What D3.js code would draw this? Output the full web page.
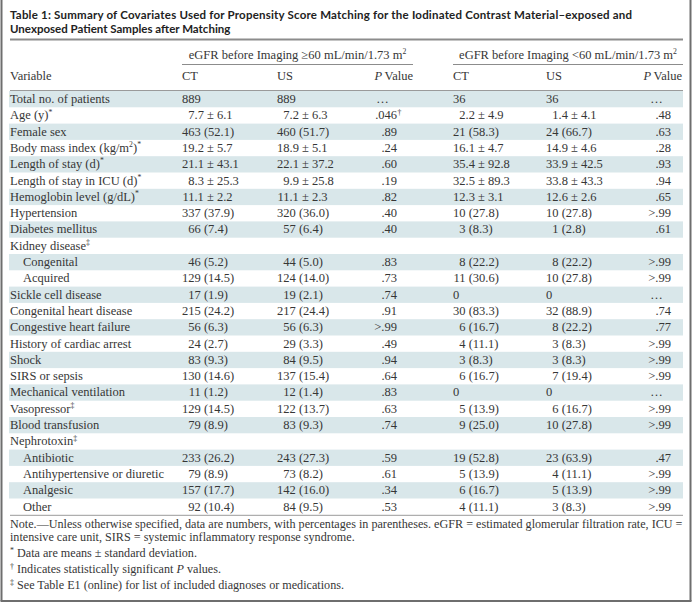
<!DOCTYPE html>
<html><head><meta charset="utf-8">
<script src="https://cdn.jsdelivr.net/npm/d3@7"></script>
<style>html,body{margin:0;padding:0;background:#fff;} svg{display:block}</style>
</head><body>
<script>
// ---------- data ----------
const titleLines = [
  "Table 1: Summary of Covariates Used for Propensity Score Matching for the Iodinated Contrast Material\u2013exposed and",
  "Unexposed Patient Samples after Matching"
];
const groupLabels = ["eGFR before Imaging \u226560 mL/min/1.73 m^2", "eGFR before Imaging <60 mL/min/1.73 m^2"];
const columnLabels = ["Variable", "CT", "US", "P Value", "CT", "US", "P Value"];
const variables = [
  "Total no. of patients", "Age (y)^*", "Female sex", "Body mass index (kg/m^2)^*",
  "Length of stay (d)^*", "Length of stay in ICU (d)^*", "Hemoglobin level (g/dL)^*",
  "Hypertension", "Diabetes mellitus", "Kidney disease^\u2021", "Congenital", "Acquired",
  "Sickle cell disease", "Congenital heart disease", "Congestive heart failure",
  "History of cardiac arrest", "Shock", "SIRS or sepsis", "Mechanical ventilation",
  "Vasopressor^\u2021", "Blood transfusion", "Nephrotoxin^\u2021", "Antibiotic",
  "Antihypertensive or diuretic", "Analgesic", "Other"
];
const indentLevel = [0,0,0,0,0,0,0,0,0,0,1,1,0,0,0,0,0,0,0,0,0,0,1,1,1,1];
const ct1 = ["889","7.7 \u00b1 6.1","463 (52.1)","19.2 \u00b1 5.7","21.1 \u00b1 43.1","8.3 \u00b1 25.3","11.1 \u00b1 2.2",
  "337 (37.9)","66 (7.4)","","46 (5.2)","129 (14.5)","17 (1.9)","215 (24.2)","56 (6.3)","24 (2.7)",
  "83 (9.3)","130 (14.6)","11 (1.2)","129 (14.5)","79 (8.9)","","233 (26.2)","79 (8.9)","157 (17.7)","92 (10.4)"];
const us1 = ["889","7.2 \u00b1 6.3","460 (51.7)","18.9 \u00b1 5.1","22.1 \u00b1 37.2","9.9 \u00b1 25.8","11.1 \u00b1 2.3",
  "320 (36.0)","57 (6.4)","","44 (5.0)","124 (14.0)","19 (2.1)","217 (24.4)","56 (6.3)","29 (3.3)",
  "84 (9.5)","137 (15.4)","12 (1.4)","122 (13.7)","83 (9.3)","","243 (27.3)","73 (8.2)","142 (16.0)","84 (9.5)"];
const p1 = ["\u2026",".046^\u2020",".89",".24",".60",".19",".82",".40",".40","",".83",".73",".74",".91",">.99",".49",
  ".94",".64",".83",".63",".74","",".59",".61",".34",".53"];
const ct2 = ["36","2.2 \u00b1 4.9","21 (58.3)","16.1 \u00b1 4.7","35.4 \u00b1 92.8","32.5 \u00b1 89.3","12.3 \u00b1 3.1",
  "10 (27.8)","3 (8.3)","","8 (22.2)","11 (30.6)","0","30 (83.3)","6 (16.7)","4 (11.1)",
  "3 (8.3)","6 (16.7)","0","5 (13.9)","9 (25.0)","","19 (52.8)","5 (13.9)","6 (16.7)","4 (11.1)"];
const us2 = ["36","1.4 \u00b1 4.1","24 (66.7)","14.9 \u00b1 4.6","33.9 \u00b1 42.5","33.8 \u00b1 43.3","12.6 \u00b1 2.6",
  "10 (27.8)","1 (2.8)","","8 (22.2)","10 (27.8)","0","32 (88.9)","8 (22.2)","3 (8.3)",
  "3 (8.3)","7 (19.4)","0","6 (16.7)","10 (27.8)","","23 (63.9)","4 (11.1)","5 (13.9)","3 (8.3)"];
const p2 = ["\u2026",".48",".63",".28",".93",".94",".65",">.99",".61","",">.99",">.99","\u2026",".74",".77",">.99",
  ">.99",">.99","\u2026",">.99",">.99","",".47",">.99",">.99",">.99"];
const noteLines = [
  "Note.\u2014Unless otherwise specified, data are numbers, with percentages in parentheses. eGFR = estimated glomerular filtration rate, ICU =",
  "intensive care unit, SIRS = systemic inflammatory response syndrome."
];
const footMarks = ["*", "\u2020", "\u2021"];
const footTexts = ["Data are means \u00b1 standard deviation.", "Indicates statistically significant _P_ values.",
  "See Table E1 (online) for list of included diagnoses or medications."];

// ---------- layout ----------
const W = 692, H = 605;
const L = 10, R = 683;
const serif = "'Liberation Serif', 'Times New Roman', serif";
const fs = 12.5;
const textColor = "#363636";
const shade = "#d9e7ea";
const rowTop = 91, rowH = 16.3;

const svg = d3.select("body").append("svg").attr("width", W).attr("height", H);

// measuring helper
const meas = svg.append("text").attr("font-family", serif).attr("font-size", fs).attr("visibility", "hidden");
function tw(s, size, family, weight) {
  meas.attr("font-size", size || fs).attr("font-family", family || serif).attr("font-weight", weight || "normal").text(s);
  return meas.node().getComputedTextLength();
}

// rich text: ^x -> superscript char, _..._ -> italic
function rich(sel, str, size) {
  const parts = [];
  let i = 0, buf = "", ital = false;
  while (i < str.length) {
    const c = str[i];
    if (c === "^") { if (buf) parts.push({t: buf, sup: false, it: ital}); buf = ""; parts.push({t: str[i+1], sup: true, it: ital}); i += 2; continue; }
    if (c === "_") { if (buf) parts.push({t: buf, sup: false, it: ital}); buf = ""; ital = !ital; i++; continue; }
    buf += c; i++;
  }
  if (buf) parts.push({t: buf, sup: false, it: ital});
  let prevSup = false;
  parts.forEach(p => {
    const ts = sel.append("tspan").text(p.t);
    if (p.it) ts.attr("font-style", "italic");
    if (p.sup && !prevSup) ts.attr("dy", -size * 0.38).attr("font-size", size * 0.62);
    else if (p.sup) ts.attr("font-size", size * 0.62);
    else if (!p.sup && prevSup) ts.attr("dy", size * 0.38);
    prevSup = p.sup;
  });
}

// ---------- frame ----------
svg.append("line").attr("x1", 1.5).attr("x2", 1.5).attr("y1", 0).attr("y2", 601).attr("stroke", "#6e6e6e").attr("stroke-width", 2);
svg.append("line").attr("x1", 690.5).attr("x2", 690.5).attr("y1", 0).attr("y2", 601).attr("stroke", "#6e6e6e").attr("stroke-width", 2);
svg.append("line").attr("x1", 0.5).attr("x2", 691.5).attr("y1", 601).attr("y2", 601).attr("stroke", "#6e6e6e").attr("stroke-width", 2);

// ---------- title ----------
const titleFamily = "Lato, 'Open Sans', sans-serif";
const tSize = Math.min(11.5, 11 * 622 / tw(titleLines[0], 11, titleFamily, "bold"));
titleLines.forEach((t, i) => {
  svg.append("text").attr("x", L).attr("y", 19 + i * 13.5)
    .attr("font-family", titleFamily).attr("font-weight", "bold").attr("font-size", tSize)
    .attr("fill", "#222").text(t)
    .attr("textLength", i === 0 ? 622 : null).attr("lengthAdjust", "spacing");
});
svg.append("line").attr("x1", L).attr("x2", R).attr("y1", 39.5).attr("y2", 39.5).attr("stroke", "#8c8c8c").attr("stroke-width", 2);

// ---------- column positions ----------
const colLeft = [L, 182, 277, null, 453, 546, null];
const groupSpans = [[182, 413], [453, 683]];
const pAnchor = [397, 671];
const headRight = [413, 682];

// group headers
groupLabels.forEach((g, i) => {
  const [a, b] = groupSpans[i];
  const t = svg.append("text").attr("x", (a + b) / 2).attr("y", 59).attr("text-anchor", "middle")
    .attr("font-family", serif).attr("font-size", fs).attr("fill", textColor);
  rich(t, g, fs);
  svg.append("line").attr("x1", a).attr("x2", b).attr("y1", 64.5).attr("y2", 64.5).attr("stroke", "#8c8c8c").attr("stroke-width", 1);
});

// column headers
const hdrY = 80;
[0, 1, 2, 4, 5].forEach(ci => {
  svg.append("text").attr("x", colLeft[ci]).attr("y", hdrY).attr("font-family", serif).attr("font-size", fs)
    .attr("fill", textColor).text(columnLabels[ci]);
});
[3, 6].forEach((ci, k) => {
  const t = svg.append("text").attr("x", headRight[k]).attr("y", hdrY).attr("text-anchor", "end")
    .attr("font-family", serif).attr("font-size", fs).attr("fill", textColor);
  t.append("tspan").attr("font-style", "italic").text("P");
  t.append("tspan").text("\u2009Value");
});

// ---------- rows ----------
const yScale = d3.scaleBand().domain(d3.range(variables.length)).range([rowTop, rowTop + rowH * variables.length]).paddingInner(0).paddingOuter(0);

svg.append("g").selectAll("rect").data(d3.range(variables.length).filter(i => i % 2 === 0)).join("rect")
  .attr("x", L - 1).attr("width", R - L + 1).attr("y", i => yScale(i)).attr("height", yScale.bandwidth())
  .attr("fill", shade);

svg.append("line").attr("x1", L).attr("x2", R).attr("y1", rowTop - 0.5).attr("y2", rowTop - 0.5).attr("stroke", "#9a9a9a").attr("stroke-width", 1);
const rowsEnd = rowTop + rowH * variables.length;
svg.append("line").attr("x1", L).attr("x2", R).attr("y1", rowsEnd + 0.5).attr("y2", rowsEnd + 0.5).attr("stroke", "#9a9a9a").attr("stroke-width", 1);

const baseOff = 12;
// labels
variables.forEach((v, i) => {
  const t = svg.append("text").attr("x", L + indentLevel[i] * 13).attr("y", yScale(i) + baseOff)
    .attr("font-family", serif).attr("font-size", fs).attr("fill", textColor);
  rich(t, v, fs);
});

// value columns
const gap = tw("\u00a0");
function drawValueCol(vals, left) {
  const counts = vals.filter(v => /^\d+ \(/.test(v)).map(v => v.split(" ")[0]);
  const means = vals.filter(v => v.includes("\u00b1")).map(v => v.split(" \u00b1 ")[0]);
  const cAnchor = left + d3.max(counts, s => tw(s));
  const mAnchor = left + d3.max(means, s => tw(s));
  vals.forEach((v, i) => {
    if (!v) return;
    const y = yScale(i) + baseOff;
    const base = () => svg.append("text").attr("y", y).attr("font-family", serif).attr("font-size", fs).attr("fill", textColor);
    if (v.includes("\u00b1")) {
      const [m, s] = v.split(" \u00b1 ");
      base().attr("x", mAnchor).attr("text-anchor", "end").text(m);
      base().attr("x", mAnchor + gap).text("\u00b1\u00a0" + s);
    } else if (/^\d+ \(/.test(v)) {
      const k = v.indexOf(" ");
      base().attr("x", cAnchor).attr("text-anchor", "end").text(v.slice(0, k));
      base().attr("x", cAnchor + gap).text(v.slice(k + 1));
    } else {
      base().attr("x", left).text(v);
    }
  });
}
drawValueCol(ct1, colLeft[1]);
drawValueCol(us1, colLeft[2]);
drawValueCol(ct2, colLeft[4]);
drawValueCol(us2, colLeft[5]);

function drawPCol(vals, anchor) {
  const wMax = tw(">.99");
  vals.forEach((v, i) => {
    if (!v) return;
    const y = yScale(i) + baseOff;
    const base = () => svg.append("text").attr("y", y).attr("font-family", serif).attr("font-size", fs).attr("fill", textColor);
    if (v === "\u2026") {
      base().attr("x", anchor - wMax + 2).text(v);
    } else if (v.includes("^")) {
      const [main, mark] = v.split("^");
      base().attr("x", anchor).attr("text-anchor", "end").text(main);
      base().attr("x", anchor + 0.5).attr("dy", -fs * 0.38).attr("font-size", fs * 0.62).text(mark);
    } else {
      base().attr("x", anchor).attr("text-anchor", "end").text(v);
    }
  });
}
drawPCol(p1, pAnchor[0]);
drawPCol(p2, pAnchor[1]);

// ---------- notes ----------
const nSize = 11.5 * 673 / tw(noteLines[0], 11.5);
const noteY = [527.5, 541];
noteLines.forEach((n, i) => {
  svg.append("text").attr("x", L).attr("y", noteY[i]).attr("font-family", serif).attr("font-size", nSize)
    .attr("fill", textColor).text(n);
});
const footY = [557, 573, 589];
footTexts.forEach((f, i) => {
  svg.append("text").attr("x", L).attr("y", footY[i] - nSize * 0.35).attr("font-family", serif).attr("font-size", nSize * 0.65)
    .attr("fill", textColor).text(footMarks[i]);
  const t = svg.append("text").attr("x", L + 7).attr("y", footY[i]).attr("font-family", serif).attr("font-size", nSize)
    .attr("fill", textColor);
  rich(t, f, nSize);
});
meas.remove();
</script>
</body></html>
